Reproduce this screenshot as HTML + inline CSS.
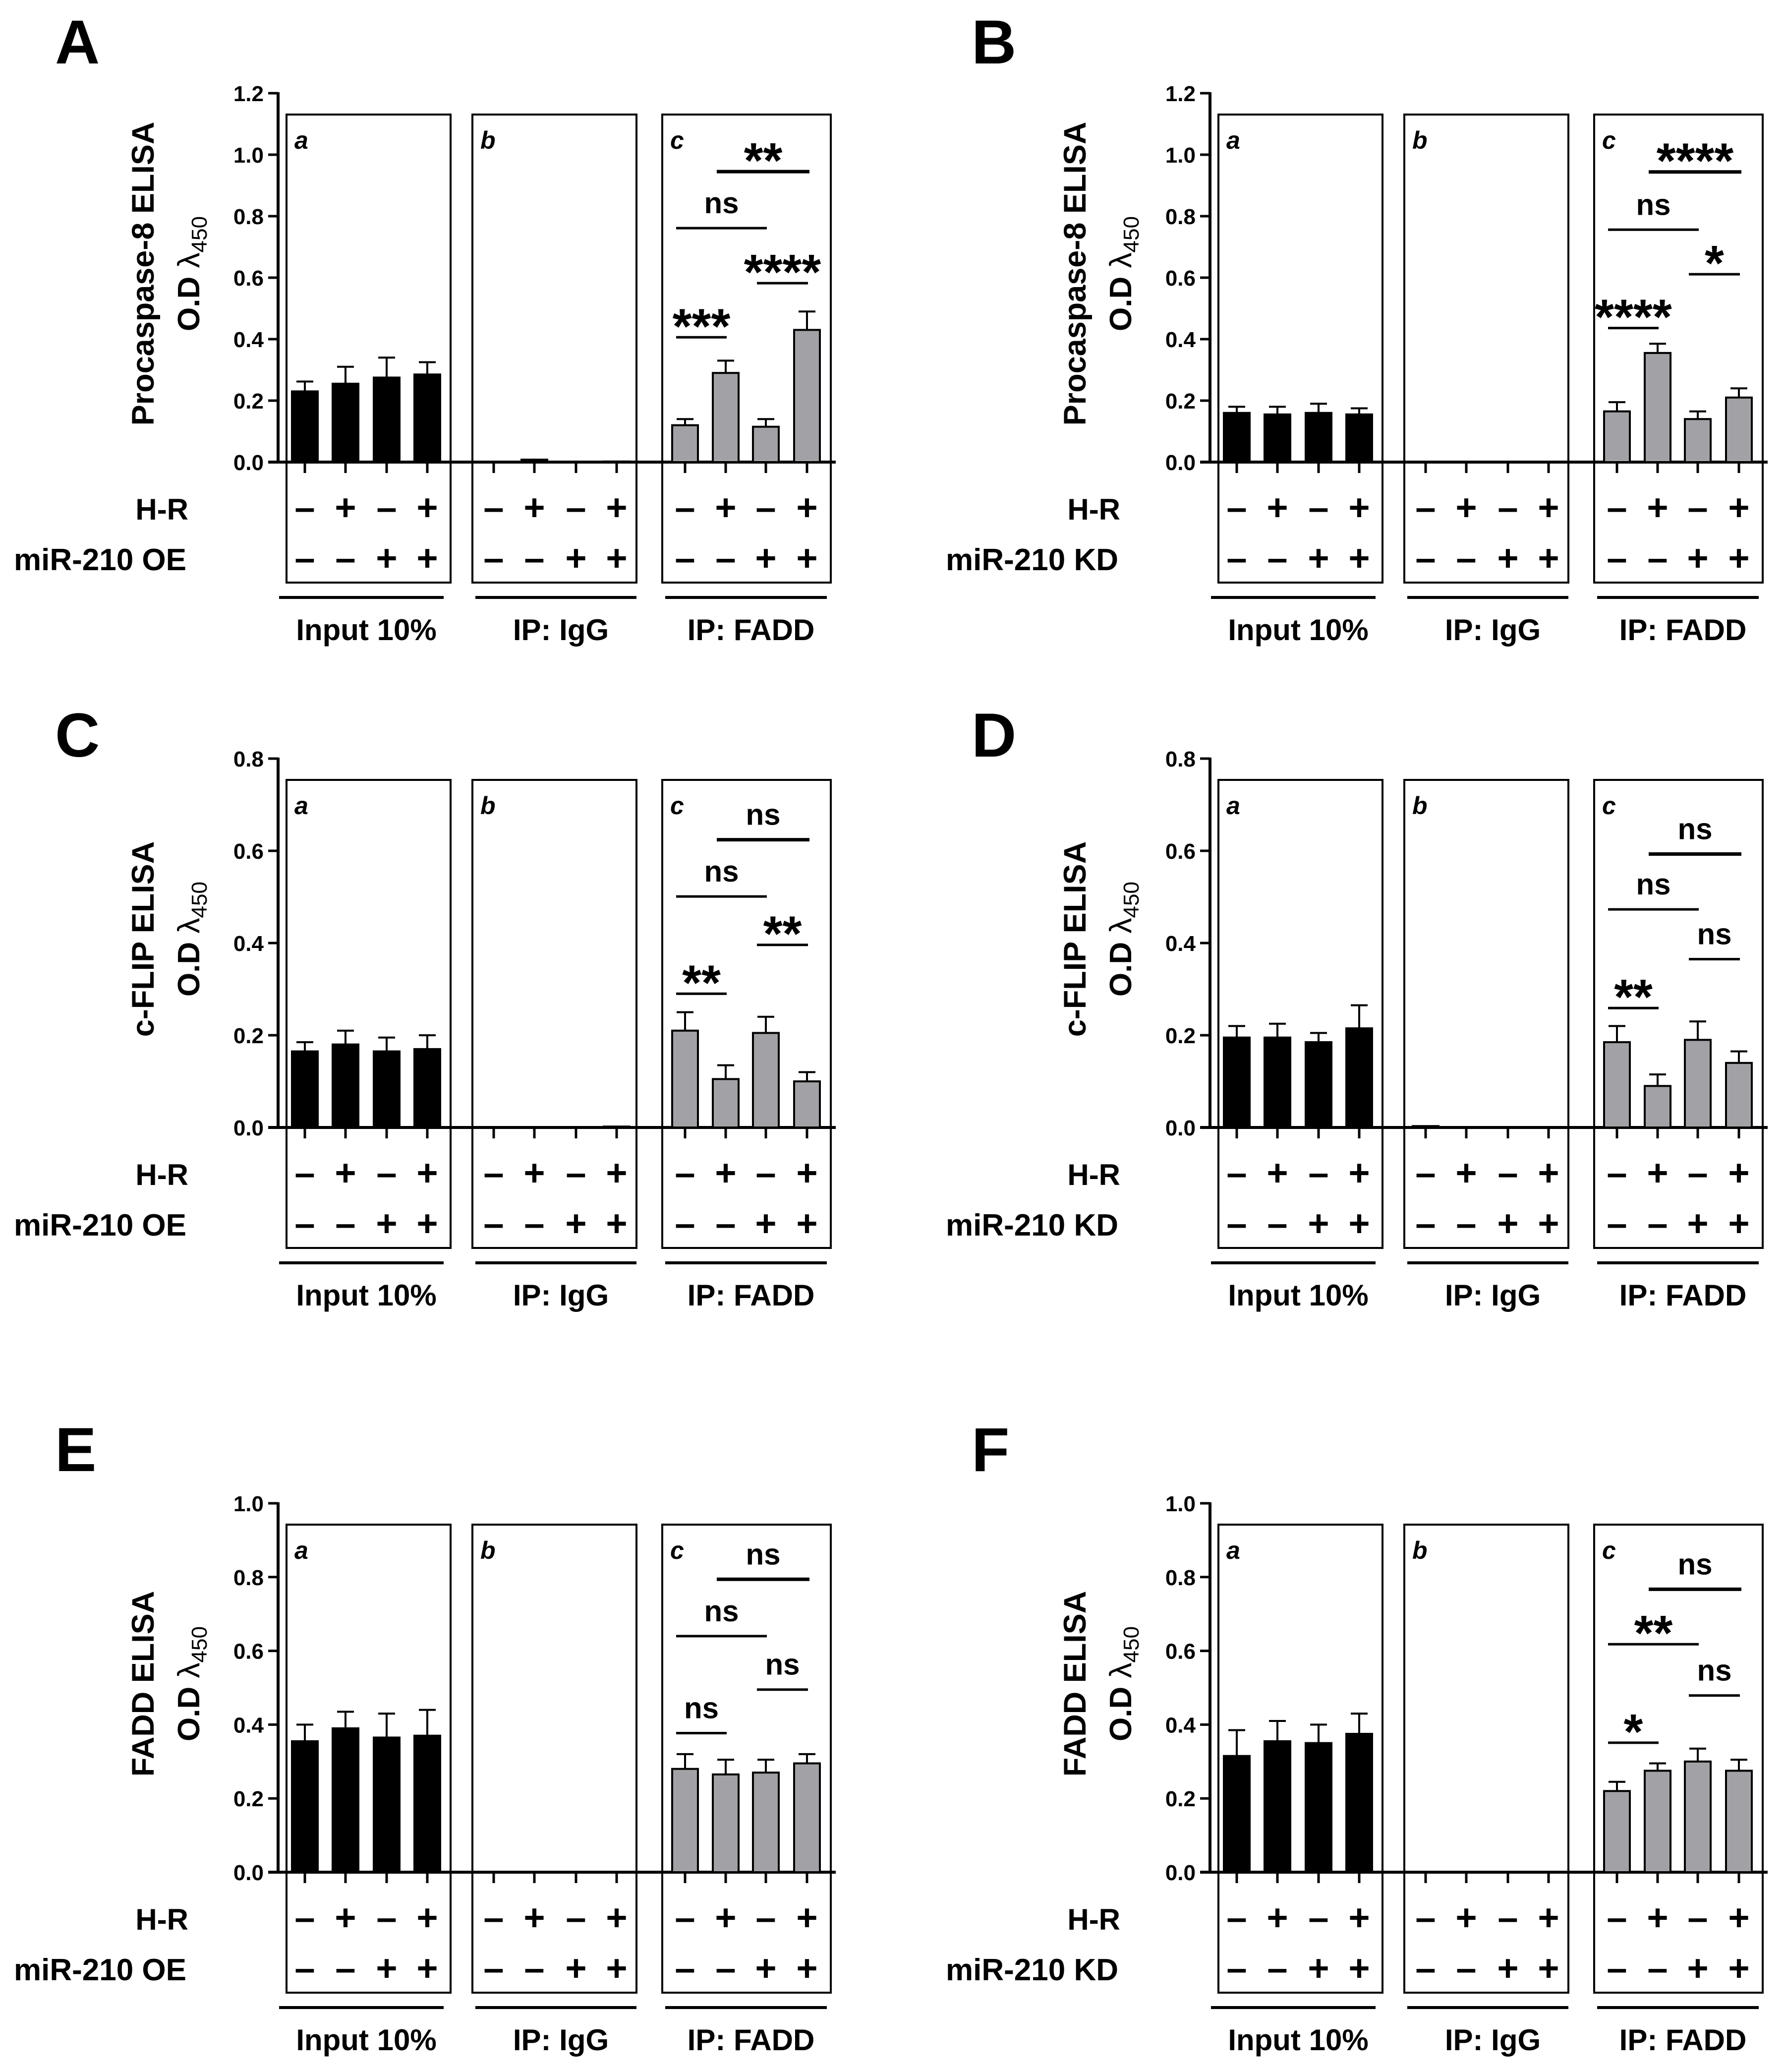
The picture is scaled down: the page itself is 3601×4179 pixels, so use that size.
<!DOCTYPE html>
<html><head><meta charset="utf-8"><style>
html,body{margin:0;padding:0;background:#fff}
svg{display:block;font-family:"Liberation Sans",Arial,sans-serif;font-weight:bold}
</style></head><body>
<svg id="fig" width="3601" height="4179" viewBox="0 0 3601 4179" xmlns="http://www.w3.org/2000/svg"></svg>
<script>
// ---- data ----
const panelLetters = ["A","B","C","D","E","F"];
const yTitles = ["Procaspase-8  ELISA","Procaspase-8  ELISA","c-FLIP  ELISA","c-FLIP  ELISA","FADD  ELISA","FADD  ELISA"];
const rowLabels2 = ["miR-210 OE","miR-210 KD","miR-210 OE","miR-210 KD","miR-210 OE","miR-210 KD"];
const yMax = [1.2,1.2,0.8,0.8,1.0,1.0];
const groupLabels = ["Input 10%","IP: IgG","IP: FADD"];
const hrSigns = ["–","+","–","+"];
const mirSigns = ["–","–","+","+"];
const inputVals = [[0.23,0.255,0.275,0.285],[0.16,0.155,0.16,0.155],[0.165,0.18,0.165,0.17],[0.195,0.195,0.185,0.215],[0.355,0.39,0.365,0.37],[0.315,0.355,0.35,0.375]];
const inputErr  = [[0.262,0.31,0.34,0.325],[0.18,0.18,0.19,0.175],[0.185,0.21,0.195,0.2],[0.22,0.225,0.205,0.265],[0.4,0.435,0.43,0.44],[0.385,0.41,0.4,0.43]];
const iggVals = [[0,0.008,0,0.002],[0,0,0,0],[0,0,0,0.002],[0.003,0,0,0],[0,0,0,0],[0,0,0,0]];
const faddVals = [[0.12,0.29,0.115,0.43],[0.165,0.355,0.14,0.21],[0.21,0.105,0.205,0.1],[0.185,0.09,0.19,0.14],[0.28,0.265,0.27,0.295],[0.22,0.275,0.3,0.275]];
const faddErr  = [[0.14,0.33,0.14,0.49],[0.195,0.385,0.165,0.24],[0.25,0.135,0.24,0.12],[0.22,0.115,0.23,0.165],[0.32,0.305,0.305,0.32],[0.245,0.295,0.335,0.305]];
const sigA = [[1,3,0.945,"**"],[0,2,0.761,"ns"],[2,3,0.582,"****"],[0,1,0.406,"***"]];
const sigB = [[1,3,0.944,"****"],[0,2,0.756,"ns"],[2,3,0.611,"*"],[0,1,0.436,"****"]];
const sigC = [[1,3,0.624,"ns"],[0,2,0.501,"ns"],[2,3,0.396,"**"],[0,1,0.29,"**"]];
const sigD = [[1,3,0.593,"ns"],[0,2,0.473,"ns"],[2,3,0.365,"ns"],[0,1,0.259,"**"]];
const sigE = [[1,3,0.794,"ns"],[0,2,0.64,"ns"],[2,3,0.495,"ns"],[0,1,0.377,"ns"]];
const sigF = [[1,3,0.767,"ns"],[0,2,0.618,"**"],[2,3,0.479,"ns"],[0,1,0.351,"*"]];
const sigs = [sigA,sigB,sigC,sigD,sigE,sigF];

const NS="http://www.w3.org/2000/svg";
const svg=document.getElementById('fig');
function mk(tag,attrs,parent){const e=document.createElementNS(NS,tag);for(const k in attrs)e.setAttribute(k,attrs[k]);(parent||svg).appendChild(e);return e;}
function txt(s,attrs,parent){const e=mk('text',attrs,parent);e.textContent=s;return e;}

const AXH=744;
const boxX=[[578,909],[953,1284],[1336,1676]];
const barX=[[615,697,780,862],[996,1078,1162,1244],[1382,1464,1545,1628]];
const underX=[[563,895],[959,1284],[1342,1668]];

for(let p=0;p<6;p++){
  const dx=(p%2)*1880, dy=[0,0,1342,1342,2844,2844][p];
  const g=mk('g',{transform:`translate(${dx},${dy})`});
  
  
  const y0=932, ym=yMax[p];
  const Y=v=>y0-v/ym*AXH;
  const L=txt(panelLetters[p],{x:(p%2?80:111),y:[128,128,184,184,123,123][p],'font-size':125},g);
  
  
  const tt=txt(yTitles[p],{x:0,y:0,'font-size':63,'text-anchor':'middle',transform:`translate(310,552) rotate(-90)`},g);
  
  
  const t2=mk('text',{x:0,y:0,'font-size':62,'text-anchor':'middle',transform:`translate(402,552) rotate(-90)`},g);
  
  
  t2.innerHTML='O.D <tspan font-weight="normal">λ</tspan><tspan font-weight="normal" font-size="44" dy="15">450</tspan>';
  const bl=['a','b','c'];
  for(let b=0;b<3;b++){
    const r=mk('rect',{x:boxX[b][0],y:231,width:boxX[b][1]-boxX[b][0],height:944,fill:'none',stroke:'#000','stroke-width':4},g);
    
    
    const lt=txt(bl[b],{x:boxX[b][0]+16,y:300,'font-size':50,'font-style':'italic'},g);
    
    
    const u=mk('line',{x1:underX[b][0],x2:underX[b][1],y1:1205,y2:1205,stroke:'#000','stroke-width':6},g);
    
    
    const gl=txt(groupLabels[b],{x:(underX[b][0]+underX[b][1])/2+10,y:1291,'font-size':60,'text-anchor':'middle'},g);
    
    
  }
  const ax=mk('line',{x1:561,x2:561,y1:Y(ym)-2,y2:y0+3,stroke:'#000','stroke-width':6},g);
  
  
  for(let v=0;v<=ym+1e-9;v+=0.2){
    const tk=mk('line',{x1:541,x2:561,y1:Y(v),y2:Y(v),stroke:'#000','stroke-width':5},g);
    
    
    const tl=txt(v.toFixed(1),{x:532,y:Y(v)+16,'font-size':44,'text-anchor':'end'},g);
    
    
  }
  const xa=mk('line',{x1:541,x2:1686,y1:y0,y2:y0,stroke:'#000','stroke-width':6},g);
  
  
  const sets=[[inputVals[p],inputErr[p],'#000'],[iggVals[p],null,'#000'],[faddVals[p],faddErr[p],'#a2a2a6']];
  for(let b=0;b<3;b++){
    for(let i=0;i<4;i++){
      const cx=barX[b][i], v=sets[b][0][i];
      const xt=mk('line',{x1:cx,x2:cx,y1:y0,y2:y0+22,stroke:'#000','stroke-width':5},g);
      
      
      if(sets[b][1]){
        const e=sets[b][1][i];
        const el=mk('line',{x1:cx,x2:cx,y1:Y(e),y2:Y(v),stroke:'#000','stroke-width':4},g);
        
        
        const ec=mk('line',{x1:cx-17,x2:cx+17,y1:Y(e),y2:Y(e),stroke:'#000','stroke-width':4},g);
        
        
      }
      if(v>0){
        const br=mk('rect',{x:cx-26,y:Y(v),width:52,height:y0-Y(v),fill:sets[b][2],stroke:'#000','stroke-width':4},g);
        
        
      }
      const s1=txt(hrSigns[i],{x:cx,y:1049,'font-size':74,'text-anchor':'middle'},g);
      
      
      const s2=txt(mirSigns[i],{x:cx,y:1151,'font-size':74,'text-anchor':'middle'},g);
      
      
    }
  }
  const r1=txt('H-R',{x:380,y:1048,'font-size':60,'text-anchor':'end'},g);
  
  
  const r2=txt(rowLabels2[p],{x:376,y:1150,'font-size':62,'text-anchor':'end'},g);
  
  
  for(const s of sigs[p]){
    const xa1=barX[2][s[0]]-18, xa2=barX[2][s[1]]+(s[1]===3&&s[0]===1?5:2);
    const ly=Y(s[2]);
    const sl=mk('line',{x1:xa1,x2:xa2,y1:ly,y2:ly,stroke:'#000','stroke-width':(s[0]===1&&s[1]===3)?7:5},g);
    
    
    const isNs=s[3]==='ns';
    const st=txt(s[3],{x:(xa1+xa2)/2,y:isNs?ly-30:ly+12,'font-size':isNs?60:100,'text-anchor':'middle'},g);
    
    
  }
}
</script>
</body></html>
